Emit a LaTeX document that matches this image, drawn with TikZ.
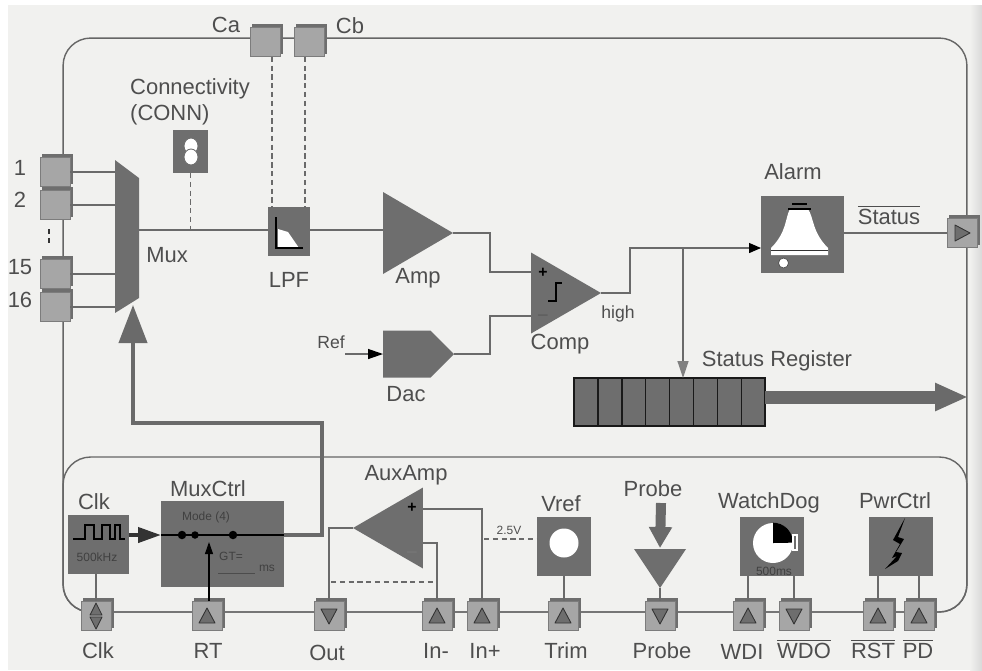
\documentclass[tikz,border=0pt]{standalone}
\usepackage{fontspec}
\setmainfont{Liberation Sans}
\usepackage{tikz}
\usetikzlibrary{calc,shapes.geometric,shapes.symbols,shadows,arrows.meta,positioning}
\definecolor{paper}{HTML}{F1F1EF}
\definecolor{blockgray}{HTML}{6E6E6E}
\definecolor{wiregray}{HTML}{6A6A6A}
\definecolor{txtgray}{HTML}{4E4E4E}
\definecolor{pinface}{HTML}{A6A6A6}
\definecolor{pinedge}{HTML}{7C7C7C}

\begin{document}
\begin{tikzpicture}[x=0.02cm, y=-0.02cm,
        frame/.style={rectangle, rounded corners=0.55cm, draw=gray!80!black, line width=0.8pt},
        block/.style={rectangle, fill=blockgray, inner sep=0pt, outer sep=0pt},
        tri/.style={isosceles triangle, isosceles triangle stretches, fill=blockgray, inner sep=0pt, outer sep=0pt},
        wire/.style={draw=wiregray, line width=0.75pt},
        dwire/.style={draw=wiregray, line width=0.6pt, densely dashed},
        lbl/.style={font=\fontsize{12.5}{15}\selectfont, text=txtgray, inner sep=0pt, align=center},
        smalllbl/.style={font=\fontsize{10}{12}\selectfont, text=txtgray, inner sep=0pt},
        tinylbl/.style={font=\fontsize{6.8}{8}\selectfont, text=black!75, inner sep=0pt},
        pinbox/.style={rectangle, fill=pinface, draw=pinedge, line width=0.4pt, minimum width=0.6cm, minimum height=0.58cm,
                       inner sep=0pt, copy shadow={shadow xshift=1.6pt, shadow yshift=1.6pt, fill=blockgray, draw=blockgray}},
        pinmark/.style={fill=blockgray, draw=black!80, line width=0.5pt, line join=round},
        pinup/.style={pinbox, path picture={\draw[pinmark, shift={(path picture bounding box.center)}] (0,-8) -- (8,7) -- (-8,7) -- cycle;}},
        pindown/.style={pinbox, path picture={\draw[pinmark, shift={(path picture bounding box.center)}] (0,8) -- (8,-7) -- (-8,-7) -- cycle;}},
        pinright/.style={pinbox, path picture={\draw[pinmark, shift={(path picture bounding box.center)}] (8,0) -- (-7,-8) -- (-7,8) -- cycle;}},
        pinboth/.style={pinbox, path picture={\draw[pinmark, shift={(path picture bounding box.center)}] (0,-13) -- (6,-1) -- (-6,-1) -- cycle (0,13) -- (6,1) -- (-6,1) -- cycle;}},
        cell/.style={rectangle, fill=blockgray, draw=black!90, line width=0.8pt, minimum width=0.478cm, minimum height=0.96cm, inner sep=0pt, outer sep=0pt}]
        \fill[white] (0,0) rectangle (982,670);
        \fill[paper] (8,5) rectangle (982,670);
        \shade[left color=paper, right color=gray!30] (970,5) rectangle (982,670);
        \useasboundingbox (0,0) rectangle (982,670);

        \node[frame, minimum width=18.08cm, minimum height=11.48cm] (outer) at (515,325) {};
        \node[frame, minimum width=18.08cm, minimum height=3.1cm] (lower) at (515,534.5) {};

        \node[inner sep=0pt, outer sep=0pt, minimum width=0.48cm, minimum height=3.06cm] (mux) at (127,236.5) {};
        \fill[blockgray] (mux.north west) -- (139,178) -- (139,298) -- (mux.south west) -- cycle;
        \node[block, minimum width=0.7cm, minimum height=0.86cm]  (conn)  at (190.5,151.5) {};
        \node[block, minimum width=0.84cm, minimum height=0.98cm] (lpf)   at (289,231.5) {};
        \node[tri, anchor=apex, minimum height=1.4cm, minimum width=1.64cm] (amp)  at (453,233) {};
        \node[tri, anchor=apex, minimum height=1.4cm, minimum width=1.62cm] (comp) at (601,293) {};
        \node[block, signal, signal to=east, signal pointer angle=90, anchor=east, minimum width=1.42cm, minimum height=0.94cm] (dac) at (454,354) {};
        \node[block, minimum width=1.66cm, minimum height=1.54cm] (alarm) at (802.5,234.5) {};

        \node[cell, anchor=north west] (reg1) at (574,378) {};
        \node[cell, right=0cm of reg1] (reg2) {};
        \node[cell, right=0cm of reg2] (reg3) {};
        \node[cell, right=0cm of reg3] (reg4) {};
        \node[cell, right=0cm of reg4] (reg5) {};
        \node[cell, right=0cm of reg5] (reg6) {};
        \node[cell, right=0cm of reg6] (reg7) {};
        \node[cell, right=0cm of reg7] (reg8) {};

        \node[block, minimum width=1.22cm, minimum height=1.18cm] (clk)     at (98.5,544.5) {};
        \node[block, minimum width=2.46cm, minimum height=1.72cm] (muxctrl) at (222.5,544) {};
        \node[tri, shape border rotate=180, anchor=apex, minimum height=1.4cm, minimum width=1.62cm] (auxamp) at (353,528) {};
        \node[block, minimum width=1.08cm, minimum height=1.18cm] (vref)  at (564,546.5) {};
        \node[tri, shape border rotate=-90, anchor=apex, minimum height=0.78cm, minimum width=1.04cm] (probe) at (660,588) {};
        \node[block, minimum width=1.28cm, minimum height=1.18cm] (wdog)  at (772,546.5) {};
        \node[block, minimum width=1.28cm, minimum height=1.18cm] (pwr)   at (901,546.5) {};

        \node[pinbox]   (pinca)  at (265,42) {};
        \node[pinbox]   (pincb)  at (309,42) {};
        \node[pinbox]   (pina)   at (55,172) {};
        \node[pinbox]   (pinb)   at (55,205) {};
        \node[pinbox]   (pinc)   at (55,274) {};
        \node[pinbox]   (pind)   at (55,307) {};
        \node[pinright] (pinst)  at (962,233) {};
        \node[pinboth]  (pinclk) at (96,616) {};
        \node[pinup]    (pinrt)  at (207,616) {};
        \node[pindown]  (pinout) at (329,616) {};
        \node[pinup]    (pinim)  at (437,616) {};
        \node[pinup]    (pinip)  at (482,616) {};
        \node[pinup]    (pintr)  at (563,616) {};
        \node[pindown]  (pinpr)  at (660,616) {};
        \node[pinup]    (pinwdi) at (748,616) {};
        \node[pindown]  (pinwdo) at (794,616) {};
        \node[pinup]    (pinrst) at (878,616) {};
        \node[pinup]    (pinpd)  at (919,616) {};

        \coordinate (cplus)  at (531,272);
        \coordinate (cminus) at (531,316);
        \coordinate (refin)  at (345,354);
        \coordinate (split)  at (683,248);
        \coordinate (busend) at (968,397);
        \coordinate (muxout) at (284,535);
        \coordinate (fbk)    at (322,423);
        \coordinate (muxin)  at (133,305);
        \coordinate (auxp)   at (423,509);
        \coordinate (auxm)   at (423,543);
        \coordinate (probein) at (661,503);
        \coordinate (rtin)   at (209,542);
        \coordinate (mainin) at (139,230);
        \coordinate (ampin)  at (383,230);
        \coordinate (outdash) at (331,582);
        \coordinate (imdash) at (437,582);
        \coordinate (vdash)  at (484,539);
        \coordinate (probetop) at (660,548);

        \draw[wire] (pina.east) -- (pina.east -| mux.west);
        \draw[wire] (pinb.east) -- (pinb.east -| mux.west);
        \draw[wire] (pinc.east) -- (pinc.east -| mux.west);
        \draw[wire] (pind.east) -- (pind.east -| mux.west);
        \draw[wire] (mainin) -- (mainin -| lpf.west);
        \draw[wire] (ampin -| lpf.east) -- (ampin);
        \draw[dwire] (conn.south) -- (conn.south |- mainin);
        \draw[dwire] (pinca.south) ++(7,0) -- ++(0,151);
        \draw[dwire] (pincb.south) ++(-4,0) -- ++(0,151);
        \draw[wire] (amp.apex) -- ++(37,0) |- (cplus);
        \draw[wire] (dac.east) -- ++(36,0) |- (cminus);
        \draw[wire, -{Triangle[length=3mm,width=2mm,color=black,fill=black]}] (refin) -- (dac.west);
        \draw[wire, -{Triangle[length=2.4mm,width=2mm,color=black,fill=black]}] (comp.apex) -- ++(29,0) |- (alarm.west |- split);
        \draw[wire, -{Triangle[length=3.4mm,width=2.2mm,color=gray,fill=gray]}] (split) -- (reg5.north -| split);
        \draw[wire] (alarm.east |- pinst.west) -- (pinst.west);
        \draw[draw=wiregray, line width=0.26cm, -{Triangle[length=6.6mm,width=5.2mm,color=wiregray,fill=wiregray]}] (reg8.east |- busend) -- (busend);
        \draw[draw=wiregray, line width=0.08cm, -{Triangle[length=7.6mm,width=5.6mm,color=wiregray,fill=wiregray]}] (muxout) -| (fbk) -| (muxin);

        \draw[draw=black!80, line width=0.08cm, -{Triangle[length=4.6mm,width=3mm,color=black!80,fill=black!80]}] (clk.east |- muxout) -- (muxctrl.west |- muxout);
        \draw[black, line width=0.8pt] (muxctrl.west |- muxout) -- (muxout);
        \draw[black, line width=0.6pt, -{Triangle[length=2.4mm,width=1.6mm,color=black,fill=black]}] (pinrt.north -| rtin) -- (rtin);
        \draw[wire] (clk.south -| pinclk.north) -- (pinclk.north);
        \draw[wire] (auxamp.apex) -| (pinout.north);
        \draw[wire] (auxp) -| (pinip.north);
        \draw[wire] (auxm) -| (pinim.north);
        \draw[dwire] (outdash) -- (imdash);
        \draw[dwire] (vdash) -- (vdash -| vref.west);
        \draw[wire] (vref.south) -- (vref.south |- pintr.north);
        \draw[wire] (probe.apex) -- (pinpr.north);
        \draw[draw=wiregray, line width=0.2cm, -{Triangle[length=4.2mm,width=4.4mm,color=wiregray,fill=wiregray]}] (probein) -- (probetop);
        \draw[wire] (wdog.south -| pinwdi.north) -- (pinwdi.north);
        \draw[wire] (wdog.south -| pinwdo.north) -- (pinwdo.north);
        \draw[wire] (pwr.south -| pinrst.north) -- (pinrst.north);
        \draw[wire] (pwr.south -| pinpd.north) -- (pinpd.north);

        \draw[black!80, line width=1.2pt, densely dashed] (49,229) -- (49,246);

        \draw[fill=white, draw=blockgray, line width=0.5pt] (191,146) ellipse (7 and 8);
        \draw[fill=white, draw=blockgray, line width=0.5pt] (191,157) ellipse (7 and 8);

        \fill[white] (278,229) -- (288,232) -- (299,248) -- (278,248) -- cycle;
        \draw[black, line width=0.8pt] (276,217) -- (276,248) -- (303,248);

        \draw[black, line width=0.9pt] (548,301) -- (556,301) -- (556,283) -- (562,283);

        \fill[white] (790,209) -- (808,209) .. controls (814,218) and (812,232) .. (828,248) -- (828,255) -- (771,255) -- (771,248) .. controls (787,232) and (785,218) .. (790,209) -- cycle;
        \draw[black, line width=0.6pt] (788,209) -- (811,209);
        \draw[black, line width=0.6pt] (792,204) -- (807,204);
        \draw[black!80, line width=0.5pt] (771,250) -- (828,250);
        \node[circle, fill=white, draw=black!70, line width=0.4pt, minimum size=0.2cm, inner sep=0pt] (clapper) at (783.5,263) {};

        \draw[black, line width=0.7pt] (73,539) -- (85,539) -- (85,525) -- (94,525) -- (94,539) -- (102,539) -- (102,525) -- (110,525) -- (110,539) -- (115,539) -- (115,525) -- (120,525) -- (120,539) -- (125,539);
        \draw[black!70, line width=0.5pt] (218,573) -- (255,573);
        \node[circle, fill=black, inner sep=0pt, minimum size=0.17cm] (dota) at (182,535) {};
        \node[circle, fill=black, inner sep=0pt, minimum size=0.15cm] (dotb) at (195,535) {};
        \node[circle, fill=black, inner sep=0pt, minimum size=0.17cm] (dotc) at (233,535) {};

        \node[circle, fill=white, minimum size=0.58cm, inner sep=0pt] (vrefc) at (564,543) {};
        \node[circle, fill=white, minimum size=0.8cm, inner sep=0pt] (pie) at (773,543) {};
        \fill[black] (pie.center) -- (pie.north) arc[start angle=90, end angle=0, radius=0.4cm] -- cycle;
        \draw[white, line width=0.6pt] (793,535) rectangle (797,550);
        \fill[black] (905,518) -- (893,540) -- (900,544) -- (892,558) -- (897,556) -- (885,569) -- (898,561) -- (902,553) -- (896,552) -- (904,539) -- (898,537) -- cycle;

        \node[lbl] (lca)    at (226,25)  {Ca};
        \node[lbl] (lcb)    at (350,26)  {Cb};
        \node[lbl, align=left] (lconn) at (190,102) {Connectivity\\(CONN)};
        \node[lbl] (la)     at (20,168)  {1};
        \node[lbl] (lb)     at (20,200)  {2};
        \node[lbl] (lc)     at (20,267)  {15};
        \node[lbl] (ld)     at (20,300)  {16};
        \node[lbl] (lmux)   at (167,255) {Mux};
        \node[lbl] (llpf)   at (289,280) {LPF};
        \node[lbl] (lamp)   at (418,278) {Amp};
        \node[lbl] (lcomp)  at (560,344) {Comp};
        \node[smalllbl] (lhigh) at (618,314) {high};
        \node[smalllbl] (lref) at (331,342) {Ref};
        \node[lbl] (ldac)   at (406,394) {Dac};
        \node[lbl] (lalarm) at (793,172) {Alarm};
        \node[lbl] (lst)    at (889,215) {$\overline{\mbox{Status}}$};
        \node[lbl] (lreg)   at (777,361) {Status Register};

        \node[lbl] (lclk)   at (94,502)  {Clk};
        \node[lbl] (lmc)    at (208,489) {MuxCtrl};
        \node[lbl] (laux)   at (406,475) {AuxAmp};
        \node[lbl] (lvref)  at (561,504) {Vref};
        \node[lbl] (lprobe) at (653,489) {Probe};
        \node[lbl] (lwd)    at (769,503) {WatchDog};
        \node[lbl] (lpwr)   at (895,501) {PwrCtrl};

        \node[lbl] (lpclk)  at (98,651)  {Clk};
        \node[lbl] (lprt)   at (208,651) {RT};
        \node[lbl] (lpout)  at (327,653) {Out};
        \node[lbl] (lpim)   at (436,651) {In-};
        \node[lbl] (lpip)   at (485,651) {In+};
        \node[lbl] (lptr)   at (566,651) {Trim};
        \node[lbl] (lppr)   at (662,651) {Probe};
        \node[lbl] (lpwdi)  at (742,652) {WDI};
        \node[lbl] (lpwdo)  at (804,649) {$\overline{\mbox{WDO}}$};
        \node[lbl] (lprst)  at (873,649) {$\overline{\mbox{RST}}$};
        \node[lbl] (lppd)   at (918,649) {$\overline{\mbox{PD}}$};

        \node[tinylbl] (lmode) at (206,517) {Mode (4)};
        \node[tinylbl] (lgt)   at (231,556) {GT=};
        \node[tinylbl] (lms)   at (267,568) {ms};
        \node[tinylbl] (lkhz)  at (97,557)  {500kHz};
        \node[tinylbl, text=txtgray] (lv) at (509,530) {2.5V};
        \node[tinylbl] (lwms)  at (774,571) {500ms};
        \node[font=\bfseries\small, text=black, inner sep=0pt] (cp) at (543,273) {+};
        \node[font=\small, text=black!70, inner sep=0pt] (cm) at (543,316) {$-$};
        \node[font=\bfseries\small, text=black, inner sep=0pt] (ap) at (412,508) {+};
        \node[font=\small, text=black!50, inner sep=0pt] (am) at (412,553) {$-$};
    \end{tikzpicture}
\end{document}
